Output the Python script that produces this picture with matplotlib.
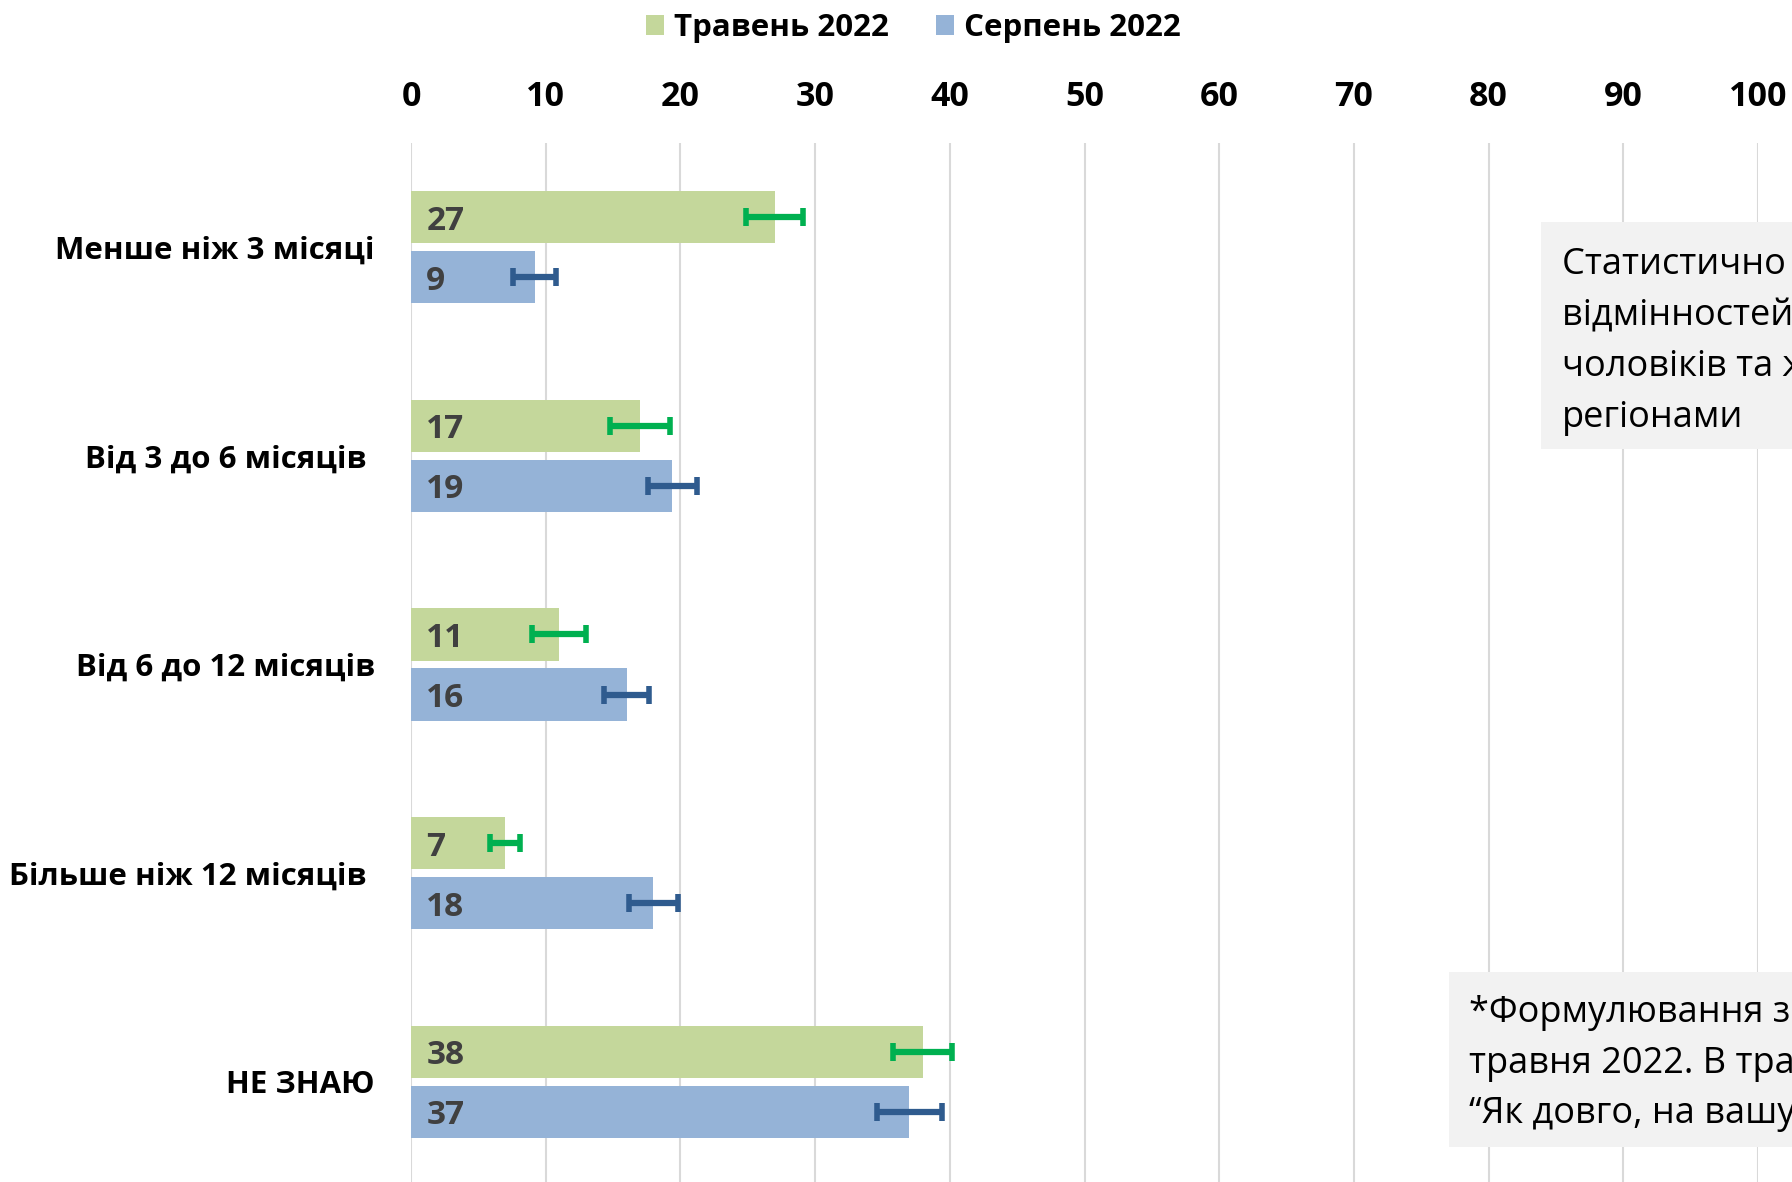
import numpy as np
import matplotlib.pyplot as plt
from matplotlib.patches import Rectangle

categories = ['Менше ніж 3 місяці', 'Від 3 до 6 місяців ', 'Від 6 до 12 місяців',
              'Більше ніж 12 місяців ', 'НЕ ЗНАЮ']
series_names = ['Травень 2022', 'Серпень 2022']
may_values = [27, 17, 11, 7, 38]
aug_values = [9.2, 19.4, 16, 18, 37]
may_errors = [2.1, 2.2, 2.0, 1.1, 2.2]
aug_errors = [1.6, 1.8, 1.7, 1.8, 2.4]
x_ticks = list(range(0, 101, 10))

note_top = ['Статистично значущих', 'відмінностей між відповідями',
            'чоловіків та жінок, а також між', 'регіонами']
note_bottom = ['*Формулювання змінилося з', 'травня 2022. В травні питали:',
               '“Як довго, на вашу думку, триватиме війна?”']

W, H = 1792, 1182
GREEN, BLUE = '#C4D79B', '#95B3D7'
GREEN_ERR, BLUE_ERR = '#00B050', '#2F5B8E'


def draw_bars(ax):
    #==========================================================================
    # Paired horizontal bars with error bars and value labels inside the bars
    y = np.arange(len(categories))
    off, h = 0.144, 0.25
    b1 = ax.barh(y - off, may_values, height=h, color=GREEN, zorder=2)
    b2 = ax.barh(y + off, aug_values, height=h, color=BLUE, zorder=2)
    ax.errorbar(may_values, y - off, xerr=may_errors, fmt='none', ecolor=GREEN_ERR,
                elinewidth=4.5, capsize=6.5, capthick=4, zorder=3)
    ax.errorbar(aug_values, y + off, xerr=aug_errors, fmt='none', ecolor=BLUE_ERR,
                elinewidth=4.5, capsize=6.5, capthick=4, zorder=3)
    for vals, pos in ((may_values, y - off), (aug_values, y + off)):
        for v, yy in zip(vals, pos):
            ax.annotate(f'{v:.0f}', xy=(0, yy), xytext=(11, 0), textcoords='offset points',
                        ha='left', va='center_baseline', fontsize=24, fontweight='bold',
                        color='#404040', zorder=4)
    ax.set_yticks(y)
    ax.set_yticklabels(categories, fontsize=22.5, fontweight='bold')
    ax.set_ylim(len(categories) - 0.5, -0.5)
    return b1, b2


def style_axes(ax):
    #==========================================================================
    # Top axis ticks, vertical grid lines, no frame
    ax.set_xlim(0, 100)
    ax.set_xticks(x_ticks)
    ax.xaxis.tick_top()
    ax.tick_params(axis='x', length=0, pad=21, labelsize=24.5)
    ax.tick_params(axis='y', length=0, pad=26)
    plt.setp(ax.get_xticklabels(), fontweight='bold')
    ax.set_axisbelow(True)
    ax.grid(axis='x', color='#D9D9D9', linewidth=1.5)
    for s in ax.spines.values():
        s.set_visible(False)


def add_note(fig, box, text_x, baseline0, step, lines):
    #==========================================================================
    # Grey note box that runs off the right edge of the picture
    x0, top, bottom = box
    fig.add_artist(Rectangle((x0 / W, 1 - bottom / H), 0.3, (bottom - top) / H,
                             transform=fig.transFigure, facecolor='#F2F2F2',
                             edgecolor='none', zorder=5))
    for i, line in enumerate(lines):
        fig.text(text_x / W, 1 - (baseline0 + i * step) / H, line, fontsize=26,
                 va='baseline', ha='left', color='black', zorder=6)


if __name__ == '__main__':
    plt.rcParams['font.family'] = ['Open Sans', 'DejaVu Sans']
    fig = plt.figure(figsize=(W / 100, H / 100), dpi=100)
    ax = fig.add_axes([411 / W, 1 - 1186 / H, (1758 - 411) / W, (1186 - 143) / H])

    b1, b2 = draw_bars(ax)
    style_axes(ax)

    fig.legend([b1, b2], series_names, loc='center', bbox_to_anchor=(913 / W, 1 - 28 / H),
               ncol=2, frameon=False, prop=dict(weight='bold', size=22.5),
               handlelength=0.6, handleheight=0.6, handletextpad=0.3, columnspacing=1.5)

    add_note(fig, (1541, 222, 449), 1562, 274, 51, note_top)
    add_note(fig, (1449, 972, 1147), 1469, 1022, 50.5, note_bottom)

    fig.savefig('out.png', dpi=100)
